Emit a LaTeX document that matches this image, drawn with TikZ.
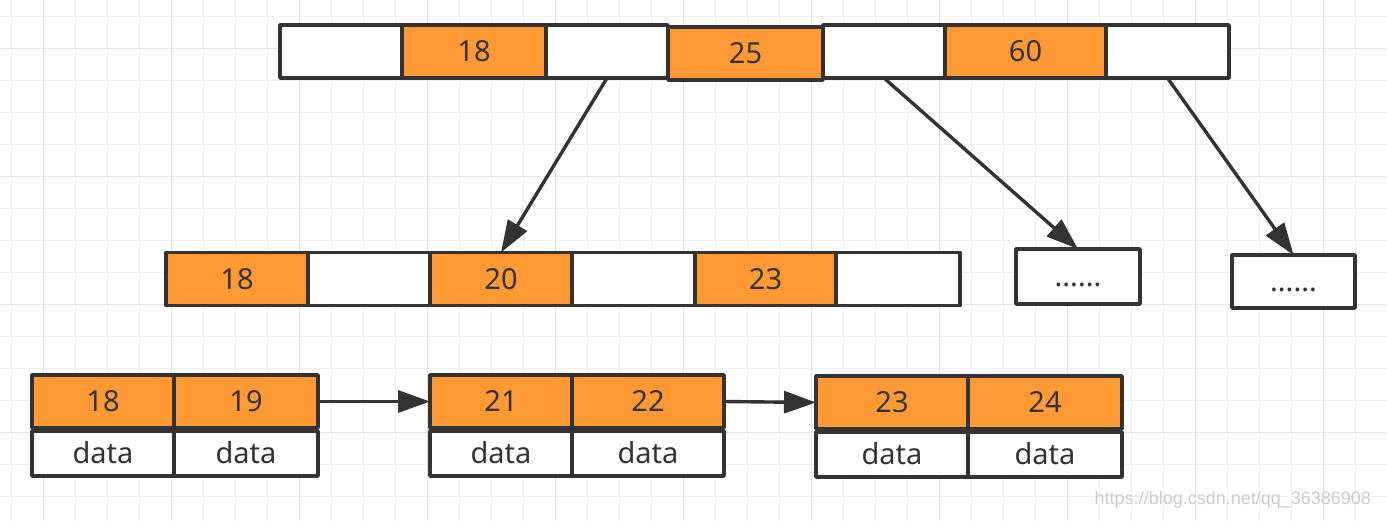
\documentclass[tikz,border=0pt]{standalone}
\usepackage{fontspec}
\setmainfont{Noto Sans}
\setsansfont{Liberation Sans}
\usetikzlibrary{positioning, arrows.meta}
\definecolor{keyorange}{HTML}{FF9933}
\definecolor{edge}{HTML}{333333}
\definecolor{gridminor}{HTML}{F1F1F1}
\definecolor{gridmajor}{HTML}{E3E3E3}
\tikzstyle{ptrbox} = [rectangle, minimum height=26.5pt, inner sep=0pt, outer sep=0pt, line width=1.8pt, line join=round, draw=edge, fill=white, text=edge, text height=10.4pt, text depth=0pt]
\tikzstyle{keybox} = [ptrbox, fill=keyorange]
\tikzstyle{databox} = [ptrbox, minimum height=22.5pt]
\tikzstyle{arrow} = [line width=1.7pt, draw=edge, -{Triangle[length=16pt, width=11pt]}]

\begin{document}
\begin{tikzpicture}[x=0.5pt, y=-0.5pt, font=\fontsize{14.5}{17}\selectfont]

\useasboundingbox (0,0) rectangle (1387,521);
\fill[white] (0,0) rectangle (1387,521);

% background grid
\foreach \gx in {11,43,...,1387} \draw[gridminor, line width=0.5pt] (\gx,0) -- (\gx,521);
\foreach \gy in {16,48,...,521} \draw[gridminor, line width=0.5pt] (0,\gy) -- (1387,\gy);
\foreach \gx in {43,171,...,1387} \draw[gridmajor, line width=0.5pt] (\gx,0) -- (\gx,521);
\foreach \gy in {48,176,...,521} \draw[gridmajor, line width=0.5pt] (0,\gy) -- (1387,\gy);

% root
\node (t1) [ptrbox, minimum width=61pt] at (341,51.5) {};
\node (t2) [keybox, minimum width=72pt, right=0pt of t1] {18};
\node (t3) [ptrbox, minimum width=61pt, right=0pt of t2] {};
\node (t4) [keybox, minimum width=77.5pt, right=0pt of t3, yshift=-1pt] {25};
\node (t5) [ptrbox, minimum width=61pt, right=0pt of t4, yshift=1pt] {};
\node (t6) [keybox, minimum width=80.5pt, right=0pt of t5] {60};
\node (t7) [ptrbox, minimum width=61.5pt, right=0pt of t6] {};

% second level
\node (m1) [keybox, minimum width=71pt] at (237,279) {18};
\node (m2) [ptrbox, minimum width=61pt, right=0pt of m1] {};
\node (m3) [keybox, minimum width=71pt, right=0pt of m2] {20};
\node (m4) [ptrbox, minimum width=61.5pt, right=0pt of m3] {};
\node (m5) [keybox, minimum width=70.5pt, right=0pt of m4] {23};
\node (m6) [ptrbox, minimum width=62pt, right=0pt of m5] {};
\node (d1) [ptrbox, minimum width=62pt, minimum height=27.5pt] at (1078,276.5) {......};
\node (d2) [ptrbox, minimum width=61.5pt] at (1293.5,281.5) {......};

% leaves
\node (a1) [keybox, minimum width=71pt] at (103,401.5) {18};
\node (a2) [keybox, minimum width=72pt, right=0pt of a1] {19};
\node (a1d) [databox, minimum width=71pt, below=1.5pt of a1] {data};
\node (a2d) [databox, minimum width=72pt, below=1.5pt of a2] {data};

\node (b1) [keybox, minimum width=71pt] at (501,401.5) {21};
\node (b2) [keybox, minimum width=76pt, right=0pt of b1] {22};
\node (b1d) [databox, minimum width=71pt, below=1.5pt of b1] {data};
\node (b2d) [databox, minimum width=76pt, below=1.5pt of b2] {data};

\node (c1) [keybox, minimum width=76pt] at (892,402.5) {23};
\node (c2) [keybox, minimum width=77pt, right=0pt of c1] {24};
\node (c1d) [databox, minimum width=76pt, below=1.5pt of c1] {data};
\node (c2d) [databox, minimum width=77pt, below=1.5pt of c2] {data};

\draw [arrow] (t3.south) -- (m3.north);
\draw [arrow] (t5.south) -- (d1.north);
\draw [arrow] (t7.south) -- (d2.north);
\draw [arrow] (a2.east) -- (b1.west);
\draw [arrow] (b2.east) -- (c1.west);

\node (mark) [text=gray!40, font=\sffamily\fontsize{9}{10}\selectfont, anchor=east] at (1378,500) {https://blog.csdn.net/qq\_36386908};

\end{tikzpicture}
\end{document}
